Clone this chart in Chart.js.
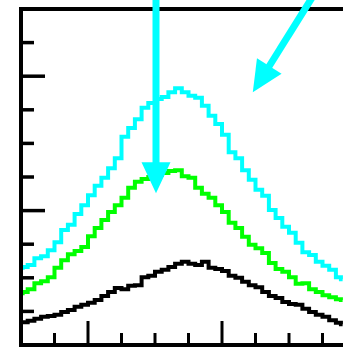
<!DOCTYPE html>
<html>
<head>
<meta charset="utf-8">
<script src="https://cdn.jsdelivr.net/npm/chart.js@4/dist/chart.umd.min.js"></script>
<style>
  html, body { margin: 0; padding: 0; background: #fff; }
  #wrap { width: 343px; height: 347px; }
</style>
</head>
<body>
<div id="wrap"><canvas id="chart1" width="343" height="347"></canvas></div>
<script>
// x positions of the samples (bin centres, plus the two plot edges)
var xs = [10, 10.5, 11.5, 12.5, 13.5, 14.5, 15.5, 16.5, 17.5, 18.5, 19.5,
    20.5, 21.5, 22.5, 23.5, 24.5, 25.5, 26.5, 27.5, 28.5, 29.5,
    30.5, 31.5, 32.5, 33.5, 34.5, 35.5, 36.5, 37.5, 38.5, 39.5,
    40.5, 41.5, 42.5, 43.5, 44.5, 45.5, 46.5, 47.5, 48.5, 49.5,
    50.5, 51.5, 52.5, 53.5, 54.5, 55.5, 56.5, 57.5, 58];

var cyanVals = [11.5, 11.6, 11.9, 12.9, 13.2, 14.1, 15.3, 17.1, 17.9, 19.5, 20.8,
    22.3, 23.7, 24.9, 26.3, 27.8, 31.0, 32.3, 33.6, 35.3, 36.0,
    36.6, 36.9, 37.6, 38.2, 37.6, 37.1, 36.8, 35.6, 34.1, 32.9,
    31.3, 28.7, 27.8, 26.0, 24.6, 23.1, 22.2, 20.1, 18.9, 17.6,
    16.7, 15.2, 13.8, 13.4, 12.4, 11.8, 11.2, 10.1, 9.8];

var greenVals = [7.7, 7.9, 8.3, 9.2, 9.5, 10.1, 11.5, 12.6, 13.5, 14.0, 14.6,
    16.2, 17.4, 18.6, 19.8, 20.8, 21.9, 23.4, 24.3, 24.7, 25.0,
    25.3, 25.6, 25.9, 26.0, 25.1, 24.9, 23.4, 22.5, 21.9, 20.8,
    19.8, 18.2, 17.4, 16.1, 14.9, 14.4, 13.7, 12.2, 11.3, 10.9,
    10.1, 9.1, 9.2, 8.3, 7.9, 7.4, 7.1, 6.8, 6.7];

var blackVals = [3.4, 3.4, 3.6, 3.9, 4.2, 4.3, 4.5, 4.9, 5.2, 5.7, 6.0,
    6.3, 6.7, 7.3, 7.9, 8.5, 8.3, 8.8, 8.9, 10.1, 10.3,
    10.9, 11.2, 11.6, 12.1, 12.4, 12.1, 11.9, 12.4, 11.5, 11.3,
    11.0, 10.3, 10.0, 9.4, 8.9, 8.6, 7.9, 7.3, 7.0, 6.4,
    6.1, 6.0, 5.4, 4.9, 4.5, 4.2, 3.7, 3.3, 3.1];

// axis tick values (major every 20, minor every 5)
var xTicks = [15, 20, 25, 30, 35, 40, 45, 50, 55];
var yTicks = [5, 10, 15, 20, 25, 30, 35, 40, 45];

// arrows: tail and tip in data units
var arrowTailX = [30.15, 53.7];
var arrowTailY = [52.0, 52.1];
var arrowTipX = [30.15, 44.6];
var arrowTipY = [22.6, 37.6];

function toPoints(vals) {
    return vals.map(function (v, i) { return { x: xs[i], y: v }; });
}

var framePlugin = {
    id: 'frame',
    afterDraw: function (chart) {
        var ctx = chart.ctx;
        var area = chart.chartArea;
        var sx = chart.scales.x;
        var sy = chart.scales.y;
        ctx.save();
        ctx.strokeStyle = '#000';
        ctx.lineCap = 'butt';

        // frame: left, top, bottom (right side runs off the picture)
        ctx.lineWidth = 4;
        ctx.beginPath();
        ctx.moveTo(area.right + 2, area.top);
        ctx.lineTo(area.left, area.top);
        ctx.lineTo(area.left, area.bottom);
        ctx.lineTo(area.right + 2, area.bottom);
        ctx.stroke();

        // inward ticks
        ctx.lineWidth = 3.5;
        yTicks.forEach(function (t) {
            var py = sy.getPixelForValue(t);
            var len = (t % 20 === 0) ? 24 : 13;
            ctx.beginPath();
            ctx.moveTo(area.left, py);
            ctx.lineTo(area.left + len, py);
            ctx.stroke();
        });
        ctx.lineWidth = 3;
        xTicks.forEach(function (t) {
            var px = sx.getPixelForValue(t);
            var len = (t % 20 === 0) ? 24 : 12;
            ctx.beginPath();
            ctx.moveTo(px, area.bottom);
            ctx.lineTo(px, area.bottom - len);
            ctx.stroke();
        });

        // cyan arrows
        ctx.strokeStyle = '#00ffff';
        ctx.fillStyle = '#00ffff';
        for (var i = 0; i < arrowTailX.length; i++) {
            var x0 = sx.getPixelForValue(arrowTailX[i]);
            var y0 = sy.getPixelForValue(arrowTailY[i]);
            var x1 = sx.getPixelForValue(arrowTipX[i]);
            var y1 = sy.getPixelForValue(arrowTipY[i]);
            var dx = x1 - x0, dy = y1 - y0;
            var len = Math.sqrt(dx * dx + dy * dy);
            var ux = dx / len, uy = dy / len;
            var headLen = 31, headHalf = 14.5;
            var bx = x1 - ux * headLen, by = y1 - uy * headLen;
            ctx.lineWidth = 7;
            ctx.beginPath();
            ctx.moveTo(x0, y0);
            ctx.lineTo(bx + ux * 2, by + uy * 2);
            ctx.stroke();
            ctx.beginPath();
            ctx.moveTo(x1, y1);
            ctx.lineTo(bx - uy * headHalf, by + ux * headHalf);
            ctx.lineTo(bx + uy * headHalf, by - ux * headHalf);
            ctx.closePath();
            ctx.fill();
        }
        ctx.restore();
    }
};

var ctxChart1 = document.getElementById('chart1').getContext('2d');
var chart1 = new Chart(ctxChart1, {
    type: 'line',
    plugins: [framePlugin],
    data: {
        datasets: [{
            label: 'black',
            data: toPoints(blackVals),
            borderColor: '#000000',
            borderWidth: 4,
            stepped: 'middle',
            pointRadius: 0,
            fill: false
        }, {
            label: 'green',
            data: toPoints(greenVals),
            borderColor: '#00ff00',
            borderWidth: 4,
            stepped: 'middle',
            pointRadius: 0,
            fill: false
        }, {
            label: 'cyan',
            data: toPoints(cyanVals),
            borderColor: '#00ffff',
            borderWidth: 4,
            stepped: 'middle',
            pointRadius: 0,
            fill: false
        }]
    },
    options: {
        responsive: false,
        animation: false,
        devicePixelRatio: 1,
        layout: {
            padding: { left: 21, top: 9, right: 0, bottom: 2 }
        },
        plugins: {
            legend: { display: false },
            title: { display: false },
            tooltip: { enabled: false }
        },
        scales: {
            x: {
                type: 'linear',
                display: false,
                min: 10,
                max: 58.06
            },
            y: {
                display: false,
                min: 0,
                max: 50
            }
        }
    }
});
</script>
</body>
</html>
